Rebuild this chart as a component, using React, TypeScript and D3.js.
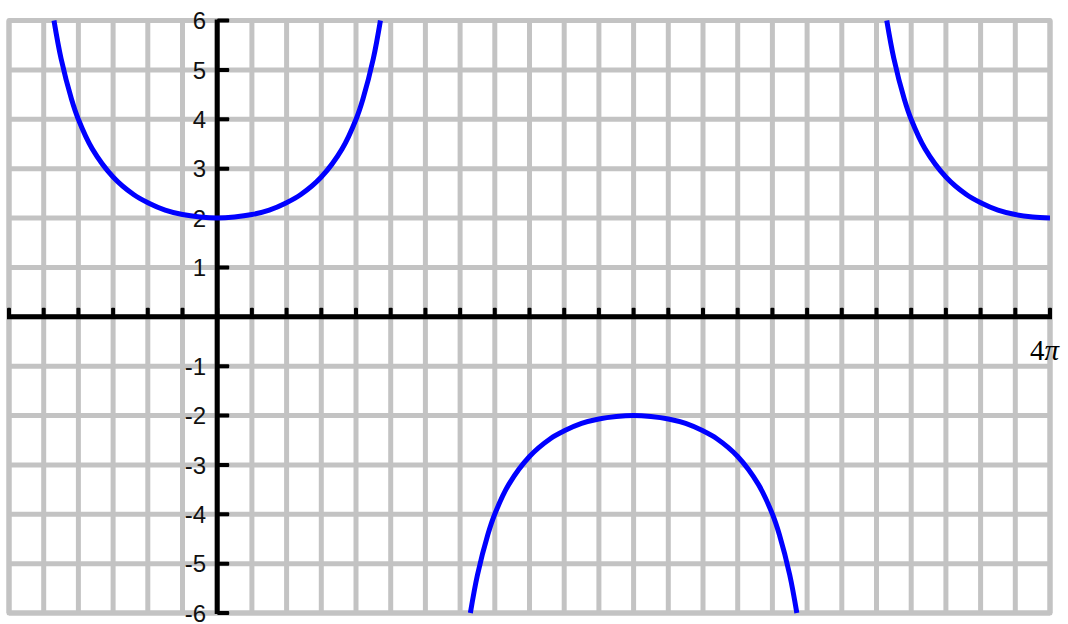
import React from "react";
import * as d3 from "d3";

// points, x in multiples of pi
const leftBranch: [number, number][] = [
  [-0.784, 6.0], [-0.75, 5.23], [-0.7, 4.41], [-0.667, 4.0], [-0.6, 3.4],
  [-0.5, 2.83], [-0.4, 2.47], [-0.333, 2.31], [-0.25, 2.16], [-0.167, 2.07],
  [-0.083, 2.02], [0, 2.0], [0.083, 2.02], [0.167, 2.07], [0.25, 2.16],
  [0.333, 2.31], [0.4, 2.47], [0.5, 2.83], [0.6, 3.4], [0.667, 4.0],
  [0.7, 4.41], [0.75, 5.23], [0.784, 6.0],
];
const middleBranch: [number, number][] = [
  [1.216, -6.0], [1.25, -5.23], [1.3, -4.41], [1.333, -4.0], [1.4, -3.4],
  [1.5, -2.83], [1.6, -2.47], [1.667, -2.31], [1.75, -2.16], [1.833, -2.07],
  [1.917, -2.02], [2, -2.0], [2.083, -2.02], [2.167, -2.07], [2.25, -2.16],
  [2.333, -2.31], [2.4, -2.47], [2.5, -2.83], [2.6, -3.4], [2.667, -4.0],
  [2.7, -4.41], [2.75, -5.23], [2.784, -6.0],
];
const rightBranch: [number, number][] = [
  [3.216, 6.0], [3.25, 5.23], [3.3, 4.41], [3.333, 4.0], [3.4, 3.4],
  [3.5, 2.83], [3.6, 2.47], [3.667, 2.31], [3.75, 2.16], [3.833, 2.07],
  [3.917, 2.02], [4, 2.0],
];
const yTickLabels = [6, 5, 4, 3, 2, 1, -1, -2, -3, -4, -5, -6];
const xEndLabel = "4";

const W = 1068;
const H = 624;

export default function App() {
  const x = d3.scaleLinear().domain([-Math.PI, 4 * Math.PI]).range([9, 1050]);
  const y = d3.scaleLinear().domain([-6, 6]).range([613, 20.5]);

  const xGrid = d3.range(-6, 25).map((k) => (k * Math.PI) / 6);
  const yGrid = d3.range(-6, 7);

  const line = d3
    .line<[number, number]>()
    .x((d) => x(d[0] * Math.PI))
    .y((d) => y(d[1]))
    .curve(d3.curveCatmullRom.alpha(0.5));

  const x0 = x(0);
  const y0 = y(0);

  return (
    <svg
      width={W}
      height={H}
      style={{ position: "absolute", left: 0, top: 0, background: "#fff" }}
    >
      <defs>
        <clipPath id="plot">
          <rect x={x(-Math.PI)} y={y(6) - 3} width={x(4 * Math.PI) - x(-Math.PI)} height={y(-6) - y(6) + 6} />
        </clipPath>
      </defs>
      <g stroke="#c3c3c3" strokeWidth={5}>
        {xGrid.map((v, i) => (
          <line key={"gx" + i} x1={x(v)} x2={x(v)} y1={y(6)} y2={y(-6)} />
        ))}
        {yGrid.map((v) => (
          <line key={"gy" + v} x1={x(-Math.PI)} x2={x(4 * Math.PI)} y1={y(v)} y2={y(v)} />
        ))}
        <rect
          x={x(-Math.PI)}
          y={y(6)}
          width={x(4 * Math.PI) - x(-Math.PI)}
          height={y(-6) - y(6)}
          fill="none"
          strokeLinejoin="round"
        />
      </g>
      <g fill="#000" stroke="none">
        <rect x={x(-Math.PI) - 2} y={y0 - 2.5} width={x(4 * Math.PI) - x(-Math.PI) + 4} height={5} />
        <rect x={x0 - 2.5} y={y(6) - 1} width={5} height={y(-6) - y(6) + 2} />
        {xGrid.map((v, i) => (
          <rect key={"tx" + i} x={x(v) - 2} y={y0 - 9} width={4} height={9} rx={1} />
        ))}
        {yTickLabels.map((v) => (
          <rect key={"ty" + v} x={x0} y={y(v) - 2} width={12} height={4} rx={1} />
        ))}
      </g>
      <g fontFamily="Arial, 'Liberation Sans', sans-serif" fontSize={24} fill="#111" textAnchor="end">
        {yTickLabels.map((v) => (
          <text key={"ly" + v} x={206} y={y(v)} dy="0.36em">
            {v}
          </text>
        ))}
      </g>
      <text x={1030} y={360} fontFamily="'Liberation Serif', 'DejaVu Serif', serif" fontSize={29} fill="#000">
        {xEndLabel}
        <tspan fontStyle="italic">π</tspan>
      </text>
      <g clipPath="url(#plot)" fill="none" stroke="#0000ff" strokeWidth={5} strokeLinejoin="round">
        {[leftBranch, middleBranch, rightBranch].map((b, i) => (
          <path key={"b" + i} d={line(b) ?? ""} />
        ))}
      </g>
    </svg>
  );
}
